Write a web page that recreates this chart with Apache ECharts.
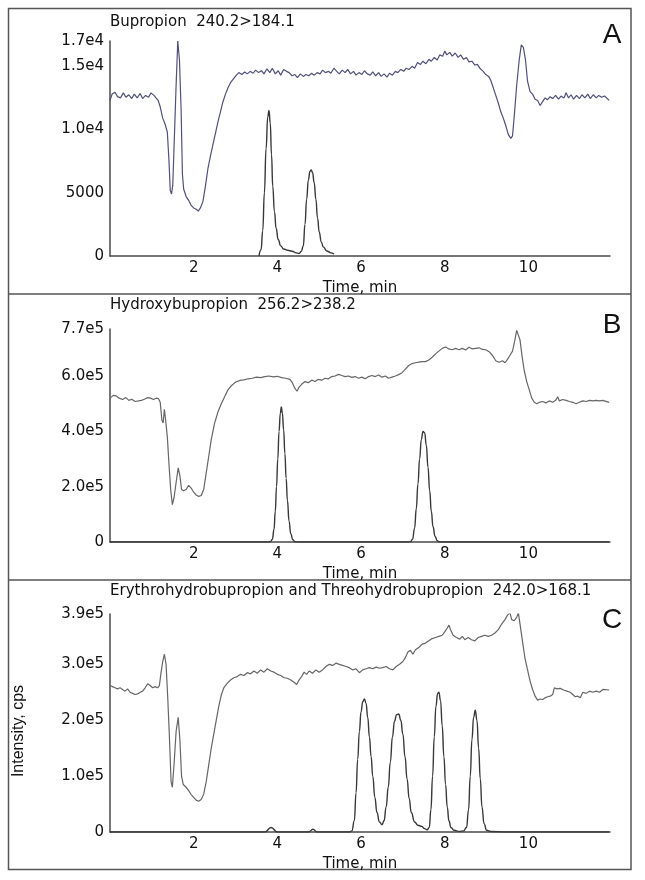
<!DOCTYPE html>
<html><head><meta charset="utf-8">
<script src="https://cdn.jsdelivr.net/npm/echarts@6/dist/echarts.min.js"></script>
<style>html,body{margin:0;padding:0;background:#fff}#c{width:645px;height:880px}</style>
</head><body><div id="c"></div>
<script>
// ---------- data ----------
const xTicks = [2, 4, 6, 8, 10];
const xMax = 11.95;

const titles = ['Bupropion  240.2>184.1', 'Hydroxybupropion  256.2>238.2', 'Erythrohydrobupropion and Threohydrobupropion  242.0>168.1'];
const panelLetters = ['A', 'B', 'C'];

const yTickValsA = [0, 5000, 10000, 15000, 17000];
const yTickLabsA = ['0', '5000', '1.0e4', '1.5e4', '1.7e4'];
const yTickValsB = [0, 200000, 400000, 600000, 770000];
const yTickLabsB = ['0', '2.0e5', '4.0e5', '6.0e5', '7.7e5'];
const yTickValsC = [0, 100000, 200000, 300000, 390000];
const yTickLabsC = ['0', '1.0e5', '2.0e5', '3.0e5', '3.9e5'];

const baseA = [[0.00,12300],[0.05,12800],[0.12,12950],[0.18,12600],[0.25,12500],[0.32,12900],[0.38,12550],[0.45,12750],[0.52,12450],[0.58,12800],[0.65,12500],[0.72,12850],[0.78,12450],[0.85,12700],[0.92,12550],[0.98,12900],[1.05,12700],[1.10,12500],[1.15,12300],[1.20,11800],[1.26,10900],[1.32,10400],[1.37,9800],[1.41,7500],[1.44,5200],[1.47,4900],[1.50,5600],[1.54,9500],[1.58,13500],[1.62,17000],[1.66,15500],[1.70,11500],[1.73,6500],[1.76,5300],[1.82,4700],[1.88,4400],[1.94,4000],[2.00,3800],[2.06,3700],[2.11,3550],[2.16,3800],[2.22,4300],[2.28,5500],[2.34,6900],[2.40,7900],[2.46,8800],[2.52,9700],[2.58,10600],[2.64,11400],[2.70,12200],[2.76,12800],[2.82,13300],[2.88,13700],[2.95,14000],[3.02,14300],[3.08,14500],[3.15,14350],[3.22,14550],[3.28,14400],[3.35,14600],[3.42,14450],[3.48,14700],[3.55,14500],[3.62,14650],[3.68,14400],[3.75,14800],[3.82,14500],[3.88,14850],[3.95,14400],[4.02,14650],[4.08,14300],[4.15,14750],[4.22,14600],[4.28,14500],[4.35,14250],[4.42,14350],[4.48,14100],[4.55,14400],[4.62,14200],[4.68,14350],[4.75,14250],[4.82,14450],[4.88,14300],[4.95,14500],[5.02,14400],[5.08,14700],[5.15,14500],[5.22,14600],[5.28,14450],[5.35,14850],[5.42,14600],[5.48,14400],[5.55,14700],[5.62,14500],[5.68,14750],[5.75,14400],[5.82,14600],[5.88,14300],[5.95,14500],[6.02,14350],[6.08,14650],[6.15,14400],[6.22,14300],[6.28,14550],[6.35,14250],[6.42,14500],[6.48,14200],[6.55,14400],[6.62,14150],[6.68,14450],[6.75,14300],[6.82,14600],[6.88,14500],[6.95,14750],[7.02,14600],[7.08,14850],[7.15,14750],[7.22,15000],[7.28,14850],[7.35,15300],[7.42,15150],[7.48,15400],[7.55,15200],[7.62,15550],[7.68,15400],[7.75,15700],[7.82,15500],[7.88,15900],[7.95,15800],[8.00,16200],[8.05,15900],[8.12,16100],[8.18,15800],[8.25,16050],[8.32,15700],[8.38,15900],[8.45,15550],[8.52,15700],[8.58,15350],[8.65,15400],[8.72,15100],[8.78,15150],[8.85,14800],[8.92,14600],[8.98,14350],[9.05,14200],[9.10,13900],[9.15,13400],[9.22,12700],[9.28,12100],[9.34,11400],[9.40,10900],[9.46,10300],[9.52,9600],[9.58,9300],[9.62,9500],[9.66,11000],[9.72,13500],[9.78,15500],[9.83,16700],[9.88,16500],[9.93,15500],[9.98,13800],[10.04,13000],[10.10,12800],[10.16,12400],[10.22,12300],[10.28,11900],[10.34,12200],[10.40,12500],[10.45,12350],[10.52,12600],[10.58,12450],[10.65,12700],[10.72,12400],[10.78,12650],[10.85,12500],[10.90,12900],[10.96,12500],[11.02,12750],[11.08,12400],[11.15,12700],[11.22,12450],[11.28,12750],[11.35,12500],[11.42,12800],[11.48,12450],[11.55,12750],[11.62,12500],[11.68,12700],[11.75,12550],[11.82,12650],[11.93,12300]];

const peakA = [[3.56,0],[3.61,500],[3.65,2000],[3.69,5000],[3.73,8500],[3.77,11000],[3.80,11500],[3.83,10500],[3.86,8000],[3.89,5500],[3.93,3500],[3.97,2200],[4.02,1300],[4.08,800],[4.15,550],[4.25,450],[4.35,380],[4.45,250],[4.52,200],[4.57,350],[4.62,800],[4.66,2500],[4.70,4500],[4.74,6000],[4.78,6700],[4.81,6800],[4.84,6600],[4.88,5800],[4.92,4500],[4.96,3000],[5.00,1900],[5.05,1100],[5.10,700],[5.18,400],[5.28,250],[5.35,150]];

const baseB = [[0.00,520000],[0.08,530000],[0.15,528000],[0.22,520000],[0.30,515000],[0.38,522000],[0.45,512000],[0.52,516000],[0.60,508000],[0.68,510000],[0.75,512000],[0.82,516000],[0.90,522000],[0.97,520000],[1.04,515000],[1.10,520000],[1.16,518000],[1.20,505000],[1.24,440000],[1.27,430000],[1.30,480000],[1.33,440000],[1.37,380000],[1.41,280000],[1.45,190000],[1.49,135000],[1.53,160000],[1.58,215000],[1.63,268000],[1.67,240000],[1.71,190000],[1.76,185000],[1.82,190000],[1.88,205000],[1.94,195000],[2.00,180000],[2.06,170000],[2.12,165000],[2.18,168000],[2.24,190000],[2.30,250000],[2.36,310000],[2.42,370000],[2.50,430000],[2.58,470000],[2.66,500000],[2.74,525000],[2.82,550000],[2.90,565000],[3.00,578000],[3.10,584000],[3.20,586000],[3.30,590000],[3.40,592000],[3.50,596000],[3.60,594000],[3.70,598000],[3.80,600000],[3.90,597000],[4.00,599000],[4.10,594000],[4.20,592000],[4.30,588000],[4.36,575000],[4.42,555000],[4.47,545000],[4.52,560000],[4.58,570000],[4.66,580000],[4.74,576000],[4.82,585000],[4.90,580000],[4.98,588000],[5.06,585000],[5.14,592000],[5.22,590000],[5.30,598000],[5.38,600000],[5.46,606000],[5.54,602000],[5.62,598000],[5.70,600000],[5.78,595000],[5.86,598000],[5.94,592000],[6.02,596000],[6.10,590000],[6.18,598000],[6.26,602000],[6.34,598000],[6.42,604000],[6.50,596000],[6.58,600000],[6.66,592000],[6.74,596000],[6.82,600000],[6.90,605000],[6.98,612000],[7.06,625000],[7.14,638000],[7.22,645000],[7.30,648000],[7.38,650000],[7.46,652000],[7.54,652000],[7.62,658000],[7.70,668000],[7.78,680000],[7.86,690000],[7.94,700000],[8.02,705000],[8.10,698000],[8.18,695000],[8.26,700000],[8.34,695000],[8.42,700000],[8.50,694000],[8.58,704000],[8.66,698000],[8.74,700000],[8.82,702000],[8.90,696000],[8.98,695000],[9.06,688000],[9.14,675000],[9.22,655000],[9.30,650000],[9.38,655000],[9.44,648000],[9.50,660000],[9.56,675000],[9.62,690000],[9.67,725000],[9.72,765000],[9.76,770000],[9.80,730000],[9.85,670000],[9.90,620000],[9.96,580000],[10.02,550000],[10.08,520000],[10.14,505000],[10.20,500000],[10.26,505000],[10.34,508000],[10.42,503000],[10.50,510000],[10.58,505000],[10.65,512000],[10.70,525000],[10.74,510000],[10.82,515000],[10.90,512000],[10.98,508000],[11.06,505000],[11.14,500000],[11.22,505000],[11.30,510000],[11.38,508000],[11.46,512000],[11.54,510000],[11.62,512000],[11.70,510000],[11.78,512000],[11.93,505000]];

const peakB = [[0,0],[3.80,0],[3.84,2000],[3.88,10000],[3.92,45000],[3.95,110000],[3.98,200000],[4.01,300000],[4.04,400000],[4.07,465000],[4.095,488000],[4.12,465000],[4.15,405000],[4.18,320000],[4.21,230000],[4.24,150000],[4.28,75000],[4.32,30000],[4.37,8000],[4.42,1000],[4.50,0],[7.12,0],[7.18,1000],[7.23,10000],[7.28,50000],[7.32,120000],[7.36,210000],[7.40,300000],[7.44,370000],[7.48,400000],[7.52,395000],[7.56,350000],[7.60,270000],[7.64,185000],[7.68,110000],[7.72,55000],[7.77,20000],[7.82,5000],[7.87,0],[11.93,0]];

const baseC = [[0.00,262000],[0.06,260000],[0.12,258000],[0.18,256000],[0.24,258000],[0.30,255000],[0.36,252000],[0.42,256000],[0.48,250000],[0.54,248000],[0.60,246000],[0.66,247000],[0.72,250000],[0.78,252000],[0.84,258000],[0.90,265000],[0.96,262000],[1.02,258000],[1.08,260000],[1.14,258000],[1.18,262000],[1.22,285000],[1.26,305000],[1.30,318000],[1.34,300000],[1.38,240000],[1.42,170000],[1.46,90000],[1.49,80000],[1.53,120000],[1.58,180000],[1.63,205000],[1.67,165000],[1.71,100000],[1.75,85000],[1.82,80000],[1.88,74000],[1.94,67000],[2.00,62000],[2.06,57000],[2.12,55000],[2.18,58000],[2.24,68000],[2.30,90000],[2.36,120000],[2.42,150000],[2.48,175000],[2.54,200000],[2.60,225000],[2.66,245000],[2.72,258000],[2.80,266000],[2.88,272000],[2.96,276000],[3.04,278000],[3.12,282000],[3.20,280000],[3.28,285000],[3.36,283000],[3.44,288000],[3.52,284000],[3.60,290000],[3.68,286000],[3.76,292000],[3.84,288000],[3.92,286000],[4.00,282000],[4.08,280000],[4.16,276000],[4.24,275000],[4.32,272000],[4.40,268000],[4.46,264000],[4.52,272000],[4.58,278000],[4.64,286000],[4.70,282000],[4.76,288000],[4.84,284000],[4.92,290000],[5.00,286000],[5.08,290000],[5.16,296000],[5.24,300000],[5.32,298000],[5.40,302000],[5.48,300000],[5.56,298000],[5.64,296000],[5.72,294000],[5.80,290000],[5.88,292000],[5.96,285000],[6.04,290000],[6.12,292000],[6.20,294000],[6.28,292000],[6.36,295000],[6.44,293000],[6.52,294000],[6.60,296000],[6.68,292000],[6.76,290000],[6.84,296000],[6.92,300000],[7.00,305000],[7.06,312000],[7.12,322000],[7.18,325000],[7.24,318000],[7.30,326000],[7.38,330000],[7.46,336000],[7.54,338000],[7.62,342000],[7.70,346000],[7.78,348000],[7.86,350000],[7.94,352000],[8.00,358000],[8.06,365000],[8.10,370000],[8.14,362000],[8.20,352000],[8.28,348000],[8.36,345000],[8.42,350000],[8.48,344000],[8.56,348000],[8.64,344000],[8.72,342000],[8.80,348000],[8.88,350000],[8.96,352000],[9.04,350000],[9.12,352000],[9.20,356000],[9.28,362000],[9.36,372000],[9.44,380000],[9.50,388000],[9.56,392000],[9.60,380000],[9.66,378000],[9.72,384000],[9.76,392000],[9.80,372000],[9.86,340000],[9.92,310000],[9.98,290000],[10.04,270000],[10.10,255000],[10.16,243000],[10.22,236000],[10.28,238000],[10.34,237000],[10.40,240000],[10.46,242000],[10.52,243000],[10.58,246000],[10.62,258000],[10.68,256000],[10.76,257000],[10.84,254000],[10.92,252000],[11.00,250000],[11.06,246000],[11.12,242000],[11.18,243000],[11.24,240000],[11.30,250000],[11.38,248000],[11.46,252000],[11.54,250000],[11.62,252000],[11.70,250000],[11.78,255000],[11.93,254000]];

const peakC = [[0,0],[3.70,0],[3.85,8000],[4.00,0],[4.75,0],[4.85,5000],[4.95,0],[5.72,0],[5.78,2000],[5.84,20000],[5.88,70000],[5.92,130000],[5.96,180000],[6.00,215000],[6.04,233000],[6.08,238000],[6.12,230000],[6.16,205000],[6.20,170000],[6.24,135000],[6.28,100000],[6.33,62000],[6.38,35000],[6.44,18000],[6.50,13000],[6.55,20000],[6.60,45000],[6.65,80000],[6.70,125000],[6.75,170000],[6.80,198000],[6.85,210000],[6.90,211000],[6.95,200000],[7.00,175000],[7.05,135000],[7.10,95000],[7.15,60000],[7.20,35000],[7.28,18000],[7.36,12000],[7.45,10000],[7.52,6000],[7.58,4000],[7.63,8000],[7.67,40000],[7.71,100000],[7.75,170000],[7.79,225000],[7.83,248000],[7.86,250000],[7.90,235000],[7.94,190000],[7.98,135000],[8.02,85000],[8.06,45000],[8.10,20000],[8.15,8000],[8.22,3000],[8.35,1000],[8.45,2000],[8.52,8000],[8.57,40000],[8.61,100000],[8.65,165000],[8.69,205000],[8.73,218000],[8.77,200000],[8.81,150000],[8.85,95000],[8.89,45000],[8.94,15000],[9.00,3000],[9.10,1000],[9.50,0],[11.93,0]];

// ---------- chart ----------
const FONT = 'DejaVu Sans';
const AXC = '#4a4a4a';
const TXT = '#111';
const grids = [
  {left:110, right:35, top:41, height:215},
  {left:110, right:35, top:329, height:213},
  {left:110, right:35, top:614, height:218}
];
const yDefs = [
  {max:17000, interval:5000, vals:yTickValsA, labs:yTickLabsA},
  {max:770000, interval:200000, vals:yTickValsB, labs:yTickLabsB},
  {max:390000, interval:100000, vals:yTickValsC, labs:yTickLabsC}
];
const xAxes = grids.map((g,i)=>({
  type:'value', gridIndex:i, min:0, max:xMax, interval:2,
  axisLine:{show:true, onZero:false, lineStyle:{color:AXC, width:1.5}},
  axisTick:{show:false}, splitLine:{show:false},
  axisLabel:{margin:5, fontFamily:FONT, fontSize:15, color:TXT,
    formatter:v=> xTicks.includes(Math.round(v*1000)/1000) ? String(v) : ''},
  name:'Time, min', nameLocation:'middle', nameGap:25,
  nameTextStyle:{fontFamily:FONT, fontSize:15, color:TXT}
}));
const yAxes = yDefs.map((d,i)=>({
  type:'value', gridIndex:i, min:0, max:d.max, interval:d.interval,
  axisLine:{show:true, lineStyle:{color:AXC, width:1.5}},
  axisTick:{show:false}, splitLine:{show:false},
  axisLabel:{margin:6, fontFamily:FONT, fontSize:15, color:TXT,
    formatter:v=>{const k=d.vals.indexOf(v); return k>=0?d.labs[k]:'';}}
}));
const baseColors = ['#50507a', '#666666', '#666666'];
const peakColor = '#383838';
const bases = [baseA, baseB, baseC];
const peaks = [peakA, peakB, peakC];
const series = [];
for (let i=0;i<3;i++){
  series.push({type:'line', xAxisIndex:i, yAxisIndex:i, data:bases[i], symbol:'none', smooth:false,
    lineStyle:{color:baseColors[i], width:1.2}, z:2});
  series.push({type:'line', xAxisIndex:i, yAxisIndex:i, data:peaks[i], symbol:'none', smooth:0.5, smoothMonotone:'x',
    lineStyle:{color:peakColor, width:1.4}, z:3});
}
const titleTops = [15, 298, 584];
const letterYs = [35, 325, 620];
const chart = echarts.init(document.getElementById('c'), null, {renderer:'canvas'});
chart.setOption({
  animation:false,
  backgroundColor:'#fff',
  title: titles.map((t,i)=>({text:t, left:110, top:titleTops[i], padding:0,
    textStyle:{fontFamily:FONT, fontSize:15, fontWeight:'normal', color:TXT}})),
  grid: grids,
  xAxis: xAxes,
  yAxis: yAxes,
  series: series,
  graphic: [
    {type:'rect', shape:{x:8.5, y:8.5, width:622.5, height:861}, style:{fill:null, stroke:'#555', lineWidth:1.5}, silent:true},
    {type:'line', shape:{x1:8.5, y1:294, x2:631, y2:294}, style:{stroke:'#555', lineWidth:1.5}, silent:true},
    {type:'line', shape:{x1:8.5, y1:580, x2:631, y2:580}, style:{stroke:'#555', lineWidth:1.5}, silent:true},
    ...panelLetters.map((L,i)=>({type:'text', x:612, y:letterYs[i], style:{text:L, font:'28px "Liberation Sans"', fill:'#111', align:'center', verticalAlign:'middle'}})),
    {type:'text', x:18.5, y:731, rotation:Math.PI/2, style:{text:'Intensity, cps', font:'16px "Liberation Sans"', fill:TXT, align:'center', verticalAlign:'middle'}}
  ]
});
</script></body></html>
